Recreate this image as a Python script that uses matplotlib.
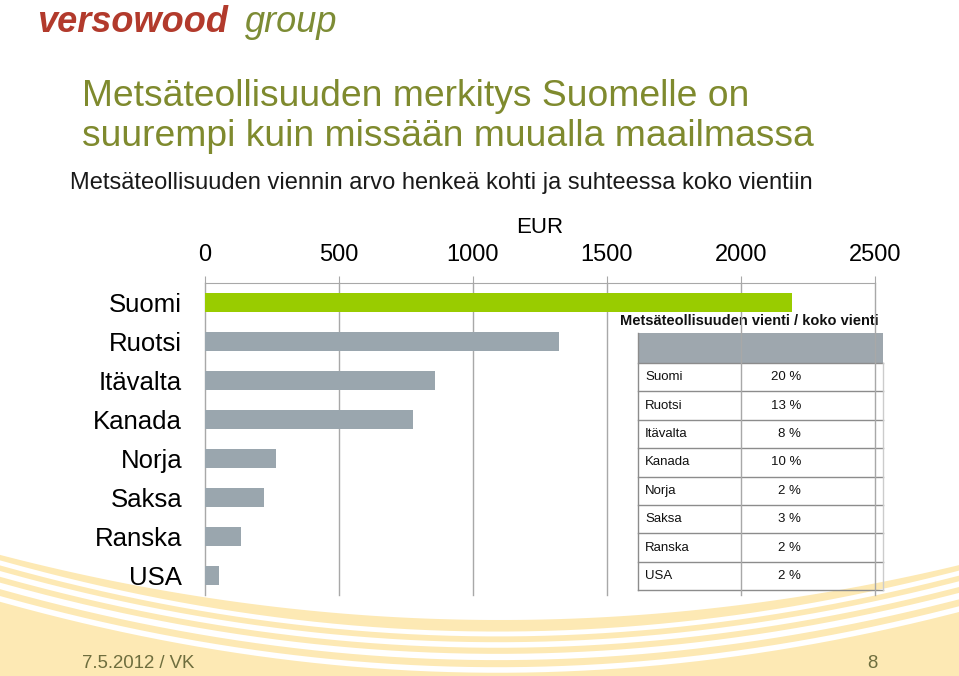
import matplotlib
matplotlib.use('Agg')
import matplotlib.pyplot as plt
import numpy as np

# Forest industry export value per capita (EUR) and share of total exports
countries = ['Suomi', 'Ruotsi', 'Itävalta', 'Kanada', 'Norja', 'Saksa', 'Ranska', 'USA']
eur_per_capita = [2190, 1320, 860, 775, 265, 222, 134, 52]
export_share = [20, 13, 8, 10, 2, 3, 2, 2]
x_ticks = [0, 500, 1000, 1500, 2000, 2500]

plt.rcParams['font.family'] = ['Liberation Sans', 'DejaVu Sans']

W, H = 959, 676
fig = plt.figure(figsize=(W / 100, H / 100), dpi=100)
fig.set_facecolor('white')

# background layer in pixel coordinates
bg = fig.add_axes([0, 0, 1, 1], zorder=0)
bg.set_xlim(0, W)
bg.set_ylim(H, 0)
bg.axis('off')

# yellow swoosh at the bottom
xs = np.linspace(0, W, 300)
top = 560 + 60 * (1 - ((xs - 500) / 480) ** 2)
bg.fill_between(xs, top, H, color='#fde9b4', lw=0)
for off, lw in [(8, 3.5), (19, 4), (31, 4.5), (44, 4)]:
    bg.plot(xs, top + off + 6 * np.sin(xs / W * np.pi), color='white', lw=lw)

# logo
bg.text(37, 23, 'versowood', color='#b23a2c', fontsize=26, fontweight='bold',
        style='italic', va='center', ha='left')
bg.text(245, 23, 'group', color='#7d8c35', fontsize=26, style='italic',
        va='center', ha='left')

# titles
bg.text(82, 97, 'Metsäteollisuuden merkitys Suomelle on', color='#7f8a2e',
        fontsize=26.8, va='center', ha='left')
bg.text(82, 137, 'suurempi kuin missään muualla maailmassa', color='#7f8a2e',
        fontsize=26.8, va='center', ha='left')
bg.text(70, 183, 'Metsäteollisuuden viennin arvo henkeä kohti ja suhteessa koko vientiin',
        color='#1a1a1a', fontsize=17, va='center', ha='left')

# footer
bg.text(82, 663, '7.5.2012 / VK', color='#6e6e3e', fontsize=13.4, va='center', ha='left')
bg.text(878, 663, '8', color='#6e6e3e', fontsize=13.4, va='center', ha='right')

# bar chart
ax = fig.add_axes([205 / W, 1 - 595 / H, 670 / W, 312 / H], zorder=1)
ax.patch.set_visible(False)
y = np.arange(len(countries))
colors = ['#99cc00'] + ['#9aa6ae'] * (len(countries) - 1)
ax.barh(y, eur_per_capita, height=0.5, color=colors, zorder=3)
ax.set_xlim(0, 2500)
ax.set_ylim(len(countries) - 0.5, -0.5)
ax.set_xticks(x_ticks)
ax.set_yticks(y)
ax.set_yticklabels(countries)
ax.xaxis.tick_top()
ax.xaxis.set_label_position('top')
ax.set_xlabel('EUR', fontsize=16, labelpad=8)
ax.grid(axis='x', color='#a8a8a8', lw=1, zorder=1)
for s in ['left', 'right', 'bottom']:
    ax.spines[s].set_visible(False)
ax.spines['top'].set_color('#a8a8a8')
ax.tick_params(axis='x', top=True, length=5, color='#a8a8a8', pad=7, labelsize=17)
ax.tick_params(axis='y', left=False, pad=13, labelsize=18.5)
for lab in ax.get_xgridlines():
    lab.set_clip_on(False)

# share table
tl, tr, tt = 638, 883, 333
head_h, row_h = 30, 28.4
bg.text(620, 321, 'Metsäteollisuuden vienti / koko vienti', fontsize=10.5,
        fontweight='bold', va='center', ha='left', color='#111111', zorder=5)
bg.fill_between([tl, tr], tt, tt + head_h, color='#9ea7ae', lw=0, zorder=2)
n = len(countries)
bottom = tt + head_h + n * row_h
for i in range(n + 1):
    yy = tt + head_h + i * row_h
    bg.plot([tl, tr], [yy, yy], color='#8c8c8c', lw=1, zorder=3)
bg.plot([tl, tl], [tt, bottom], color='#8c8c8c', lw=1, zorder=3)
bg.plot([tr, tr], [tt + head_h, bottom], color='#cccccc', lw=1, zorder=3)
for i, (c, v) in enumerate(zip(countries, export_share)):
    yc = tt + head_h + (i + 0.5) * row_h
    bg.text(645, yc, c, fontsize=9.5, va='center', ha='left', color='#111111')
    bg.text(801, yc, f'{v} %', fontsize=9.5, va='center', ha='right', color='#111111')

fig.savefig('out.png', dpi=100)
